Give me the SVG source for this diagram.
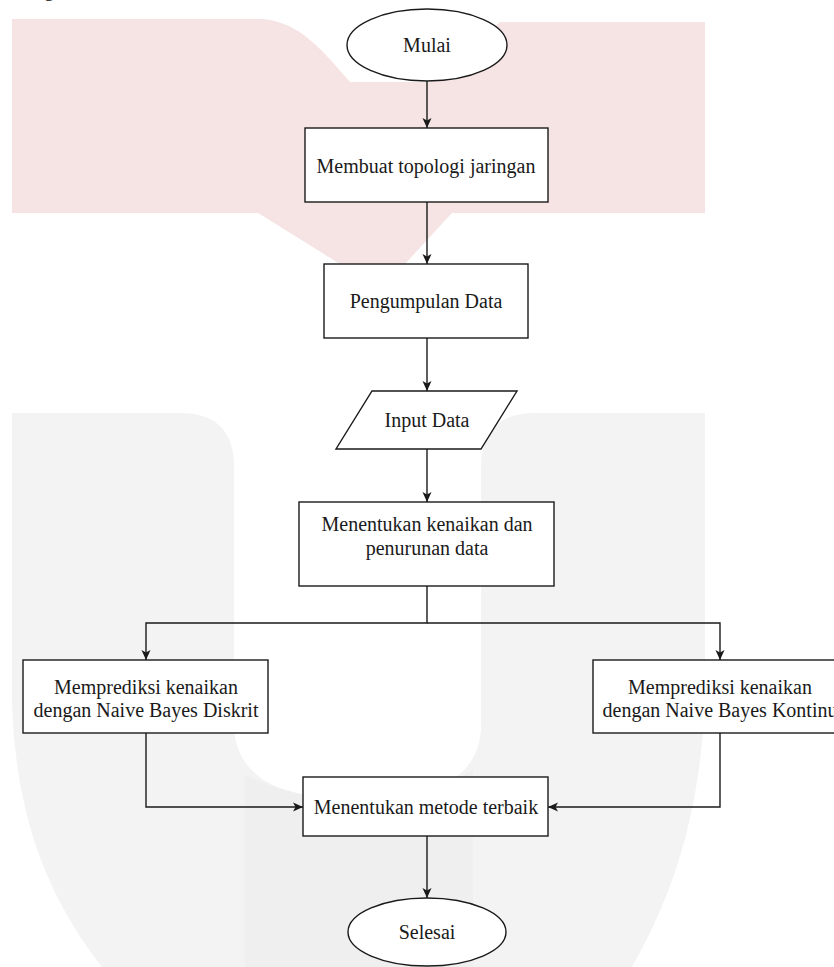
<svg xmlns="http://www.w3.org/2000/svg" width="834" height="967" viewBox="0 0 834 967">
  <style>
    .shape { fill: #ffffff; stroke: #1a1a1a; stroke-width: 1.4; }
    .edge { fill: none; stroke: #1a1a1a; stroke-width: 1.4; }
    .lbl { font-family: "Liberation Serif", "Times New Roman", serif; font-size: 20px; fill: #1a1a1a; text-anchor: middle; }
  </style>
  <defs>
    <marker id="arrow" markerUnits="userSpaceOnUse" markerWidth="12" markerHeight="12" refX="10" refY="5" orient="auto">
      <path d="M0,0.5 L10,5 L0,9.5 L2.5,5 Z" fill="#1a1a1a"/>
    </marker>
  </defs>
  <rect x="0" y="0" width="834" height="967" fill="#ffffff"/>
  <g id="watermark">
    <path d="M12,19 L262,19 C300,22 322,50 350,82 L430,82 L500,22 L705,22 L705,213 L452,213 L405,264 L340,264 L258,213 L12,213 Z" fill="#f6e4e5"/>
    <path d="M12,413 L180,413 Q234,413 234,467 L234,730 Q240,800 358,800 Q476,800 481,730 L481,467 Q481,413 535,413 L705,413 L705,700 C700,820 670,900 632,967 L102,967 C50,900 15,820 12,700 Z" fill="#f3f3f3"/>
    <path d="M245,775 Q300,800 358,800 Q420,800 473,770 L473,967 L245,967 Z" fill="#efefef"/>
  </g>
  <text class="lbl" x="49" y="-4">g</text>
  <g id="connectors">
    <path class="edge" d="M427,81 L427,128" marker-end="url(#arrow)"/>
    <path class="edge" d="M427,202 L427,264" marker-end="url(#arrow)"/>
    <path class="edge" d="M427,338 L427,391" marker-end="url(#arrow)"/>
    <path class="edge" d="M427,449 L427,502" marker-end="url(#arrow)"/>
    <path class="edge" d="M427,586 L427,623 L146,623 L146,660" marker-end="url(#arrow)"/>
    <path class="edge" d="M427,623 L720,623 L720,660" marker-end="url(#arrow)"/>
    <path class="edge" d="M146,733 L146,807 L303,807" marker-end="url(#arrow)"/>
    <path class="edge" d="M720,733 L720,807 L548,807" marker-end="url(#arrow)"/>
    <path class="edge" d="M427,836 L427,898" marker-end="url(#arrow)"/>
  </g>
  <g id="mulai">
    <ellipse class="shape" cx="427" cy="45" rx="80" ry="36"/>
    <text class="lbl" x="427" y="52">Mulai</text>
  </g>
  <g id="membuat-topologi">
    <rect class="shape" x="305" y="128" width="243" height="74"/>
    <text class="lbl" x="426" y="173">Membuat topologi jaringan</text>
  </g>
  <g id="pengumpulan-data">
    <rect class="shape" x="324" y="264" width="204" height="74"/>
    <text class="lbl" x="426" y="308">Pengumpulan Data</text>
  </g>
  <g id="input-data">
    <polygon class="shape" points="372,391 517,391 481,449 336,449"/>
    <text class="lbl" x="427" y="427">Input Data</text>
  </g>
  <g id="menentukan-kenaikan">
    <rect class="shape" x="299" y="502" width="255" height="84"/>
    <text class="lbl" x="427" y="531">Menentukan kenaikan dan</text>
    <text class="lbl" x="427" y="555">penurunan data</text>
  </g>
  <g id="prediksi-diskrit">
    <rect class="shape" x="23" y="660" width="245" height="73"/>
    <text class="lbl" x="146" y="694">Memprediksi kenaikan</text>
    <text class="lbl" x="146" y="717">dengan Naive Bayes Diskrit</text>
  </g>
  <g id="prediksi-kontinu">
    <rect class="shape" x="593" y="660" width="254" height="73"/>
    <text class="lbl" x="720" y="694">Memprediksi kenaikan</text>
    <text class="lbl" x="720" y="717">dengan Naive Bayes Kontinu</text>
  </g>
  <g id="metode-terbaik">
    <rect class="shape" x="303" y="777" width="245" height="59"/>
    <text class="lbl" x="426" y="814">Menentukan metode terbaik</text>
  </g>
  <g id="selesai">
    <ellipse class="shape" cx="427" cy="932" rx="79" ry="34"/>
    <text class="lbl" x="427" y="939">Selesai</text>
  </g>
</svg>
